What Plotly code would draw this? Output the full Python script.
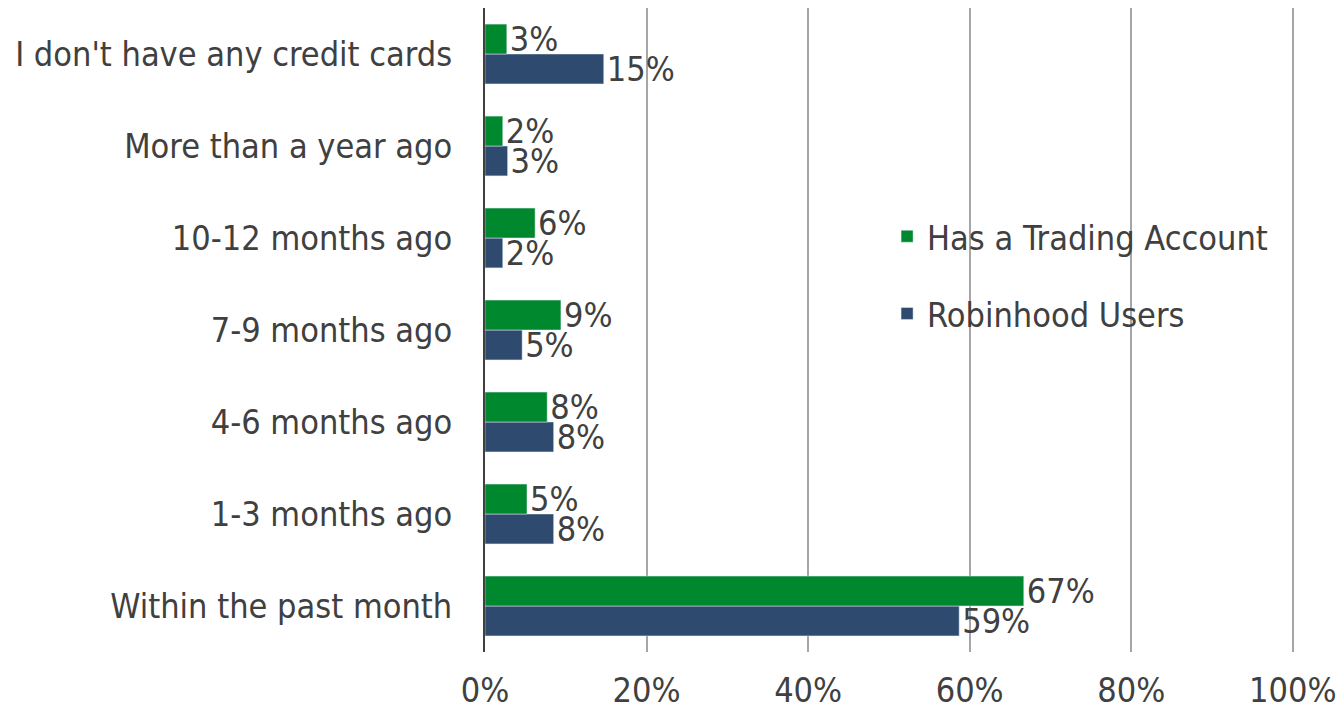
import plotly.graph_objects as go

categories = ["Within the past month", "1-3 months ago", "4-6 months ago", "7-9 months ago",
              "10-12 months ago", "More than a year ago", "I don't have any credit cards"]
trading = [66.7, 5.2, 7.7, 9.4, 6.2, 2.2, 2.7]
robinhood = [58.7, 8.5, 8.5, 4.6, 2.2, 2.8, 14.7]
tick_vals = [0, 20, 40, 60, 80, 100]
tick_text = ["0%", "20%", "40%", "60%", "80%", "100%"]

FONT = "DejaVu Sans Condensed"
TXT = "#404040"
FS = 34

fig = go.Figure()
fig.add_trace(go.Bar(
    y=categories, x=robinhood, orientation="h", name="Robinhood Users",
    marker=dict(color="#2E4A6E"), legendgroup="b", legendrank=2,
    text=[f"{v:.0f}%" for v in robinhood], textposition="outside",
    textfont=dict(family=FONT, size=FS, color=TXT), cliponaxis=False,
    constraintext="none",
))
fig.add_trace(go.Bar(
    y=categories, x=trading, orientation="h", name="Has a Trading Account",
    marker=dict(color="#00882F"), legendgroup="a", legendrank=1,
    text=[f"{v:.0f}%" for v in trading], textposition="outside",
    textfont=dict(family=FONT, size=FS, color=TXT), cliponaxis=False,
    constraintext="none",
))

fig.update_layout(
    width=1336, height=704,
    margin=dict(l=477, r=50, t=0, b=60),
    paper_bgcolor="white", plot_bgcolor="white",
    barmode="group", bargap=0.35, bargroupgap=0,
    font=dict(family=FONT, size=FS, color=TXT),
    legend=dict(x=0.497, y=0.69, xanchor="left", yanchor="top",
                traceorder="grouped", tracegroupgap=30,
                font=dict(family=FONT, size=FS, color=TXT),
                bgcolor="rgba(0,0,0,0)"),
    xaxis=dict(range=[0, 100.15], tickvals=tick_vals, ticktext=tick_text,
               showgrid=True, gridcolor="#A6A6A6", gridwidth=2,
               zeroline=False, showline=False, ticks="", ticklabelstandoff=15,
               automargin=False),
    yaxis=dict(showline=True, linecolor="#404040", linewidth=2,
               ticks="", ticklabelstandoff=24, showgrid=False, automargin=False),
)

fig.write_html("out.html")
